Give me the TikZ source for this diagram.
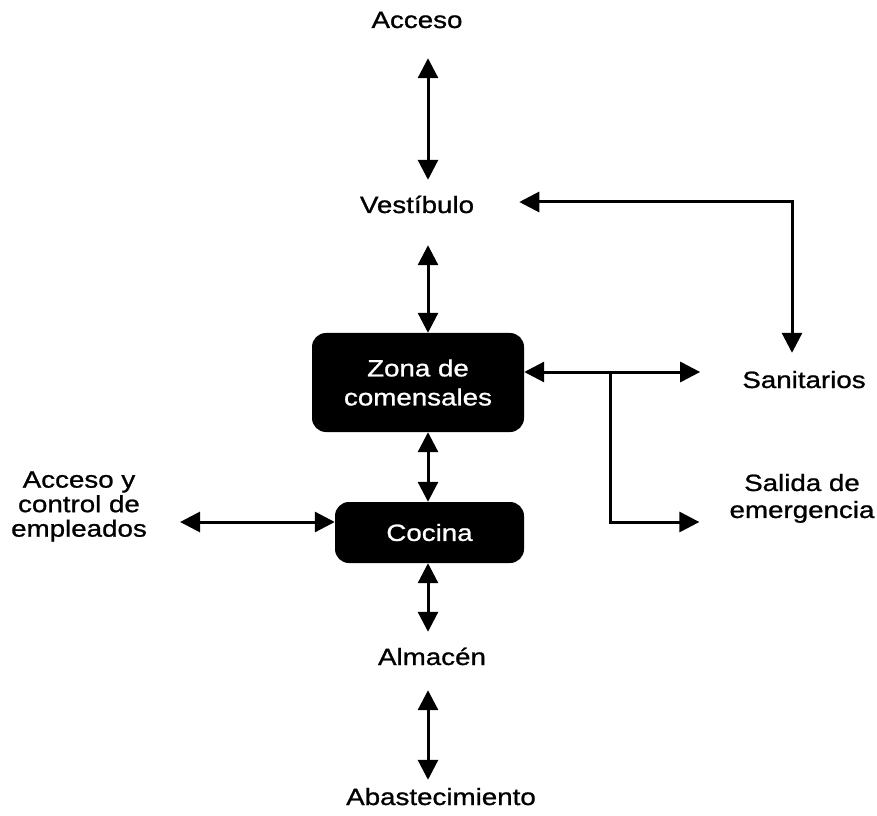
\documentclass[tikz,border=0pt]{standalone}
\usepackage{fontspec}
\setmainfont{Liberation Sans}[FakeStretch=1.18,FakeBold=1]
\usetikzlibrary{arrows.meta}
\begin{document}
\begin{tikzpicture}[x=1pt,y=1pt,
  lbl/.style={inner sep=0pt, anchor=base, text height=17pt, text depth=5pt, font=\fontsize{23.5pt}{26pt}\selectfont},
  mlbl/.style={inner sep=0pt, align=center},
  darkbox/.style={fill=black, text=white, rounded corners=14pt, inner sep=0pt, align=center},
  dbl/.style={line width=3pt, {Triangle[length=20pt,width=20pt]}-{Triangle[length=20pt,width=20pt]}},
  arr/.style={line width=3pt, -{Triangle[length=20pt,width=20pt]}}]
\useasboundingbox[fill=white] (0,0) rectangle (877,815);
% labels
\node[lbl] (acc) at (417,787) {Acceso};
\node[lbl] (ves) at (417,602) {Vestíbulo};
\node[lbl] (san) at (804,427) {Sanitarios};
\node[lbl] (alm) at (432,150) {Almacén};
\node[lbl] (aba) at (441,10) {Abastecimiento};
\node[mlbl, font=\fontsize{23.5pt}{24.5pt}\selectfont] (acy) at (79,308.5) {Acceso y\\control de\\empleados};
\node[mlbl, font=\fontsize{23.5pt}{27pt}\selectfont] (sal) at (802,316.6) {Salida de\\emergencia};
% boxes
\node[darkbox, minimum width=212pt, minimum height=99pt, font=\fontsize{23.5pt}{29pt}\selectfont] (zona) at (418,432.5) {Zona de\\comensales};
\node[darkbox, minimum width=189pt, minimum height=61pt, font=\fontsize{23.5pt}{26pt}\selectfont] (cocina) at (429.5,282.5) {Cocina};
% helper coordinates
\coordinate (axis) at (428,0);
\coordinate (hv) at (0,613);
\coordinate (vx) at (792,0);
\coordinate (hz) at (0,443);
\coordinate (hl) at (0,293);
\coordinate (bx) at (610,0);
% connectors
\draw[dbl, shorten <=25pt, shorten >=16pt] (acc.south -| axis) -- (ves.north -| axis);
\draw[dbl, shorten <=27pt] (ves.south -| axis) -- (zona.north -| axis);
\draw[dbl] (zona.south -| axis) -- (cocina.north -| axis);
\draw[dbl, shorten >=16pt] (cocina.south -| axis) -- (alm.north -| axis);
\draw[dbl, shorten <=20pt, shorten >=8pt] (alm.south -| axis) -- (aba.north -| axis);
\draw[dbl, shorten <=45pt, shorten >=18pt] (ves.east |- hv) -| (vx |- san.north);
\draw[dbl, shorten >=42pt] (zona.east |- hz) -- (san.west |- hz);
\draw[arr, shorten >=30pt] (bx |- hz) |- (sal.west |- hl);
\draw[dbl, shorten <=33pt] (acy.east |- hl) -- (cocina.west |- hl);
\end{tikzpicture}
\end{document}
